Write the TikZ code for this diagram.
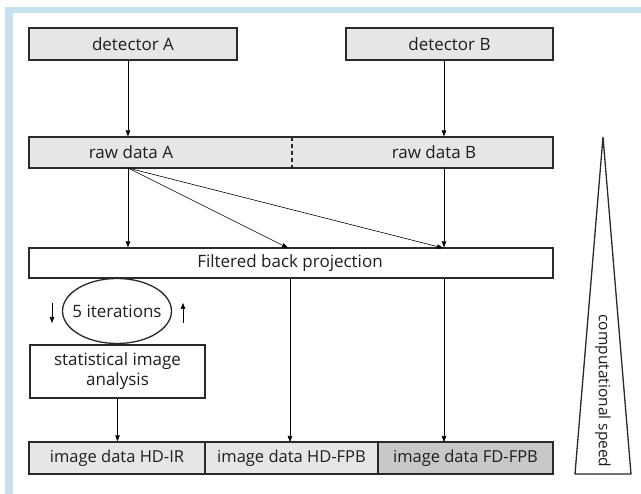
\documentclass[tikz,border=0pt]{standalone}
\usepackage{fontspec}
\setmainfont{Open Sans}
\usetikzlibrary{arrows.meta,shapes.geometric}
\definecolor{frameblue}{HTML}{C6E1EF}
\definecolor{lgray}{HTML}{E6E6E6}
\definecolor{dgray}{HTML}{C8C8C8}
\definecolor{edge}{HTML}{2A2A2A}
\definecolor{txt}{HTML}{1E1E1E}
\begin{document}
\begin{tikzpicture}[x=1pt,y=-1pt,
  box/.style={draw=edge,line width=1.3pt,inner sep=0pt},
  conn/.style={draw=black,line width=0.6pt,-{Triangle[length=6pt,width=4.5pt]}},
  lbl/.style={font=\fontsize{17}{19}\selectfont,text=txt,inner sep=0pt}]
\useasboundingbox (0,0) rectangle (641,494);
\fill[white] (0,0) rectangle (641,494);
\fill[frameblue] (5,7) rectangle (641,13);
\fill[frameblue] (5,7) rectangle (13,494);
% detectors
\node[box,fill=lgray,minimum width=208pt,minimum height=32pt] (detA) at (133,44) {};
\node[lbl] at (133,44) {detector A};
\node[box,fill=lgray,minimum width=207pt,minimum height=32pt] (detB) at (449.5,44) {};
\node[lbl] at (449.5,44) {detector B};
% raw data
\node[box,fill=lgray,minimum width=524pt,minimum height=31pt] (raw) at (291,152.5) {};
\draw[edge,line width=1.3pt,dash pattern=on 4pt off 3pt] (292,137) -- (292,168);
\node[lbl] (rawA) at (131,152.5) {raw data A};
\node[lbl] (rawB) at (434,152.5) {raw data B};
\coordinate (ra) at (128,168);
\coordinate (rb) at (444,168);
% FBP
\node[box,fill=white,minimum width=524pt,minimum height=30pt] (fbp) at (291,263) {};
\node[lbl] at (290,263) {Filtered back projection};
% iterations
\node[draw=edge,line width=1.3pt,ellipse,minimum width=109pt,minimum height=65pt,inner sep=0pt] (iter) at (117,311) {};
\node[lbl] at (117,311) {5 iterations};
\coordinate (d1) at (52,303); \coordinate (d2) at (52,323);
\coordinate (u1) at (183,323); \coordinate (u2) at (183,303);
\draw[conn] (d1) -- (d2);
\draw[conn] (u1) -- (u2);
% statistical
\node[box,fill=white,minimum width=175pt,minimum height=53pt] (stat) at (117.5,371.5) {};
\node[lbl,align=center,font=\fontsize{17}{20}\selectfont] at (117.5,371.5) {statistical image\\analysis};
% bottom boxes
\node[box,fill=lgray,minimum width=176pt,minimum height=32pt] (hdir) at (117,458) {};
\node[lbl,font=\fontsize{16.5}{19}\selectfont] at (117,458) {image data HD-IR};
\node[box,fill=lgray,minimum width=173pt,minimum height=32pt] (hdfpb) at (291.5,458) {};
\node[lbl,font=\fontsize{16.5}{19}\selectfont] at (291.5,458) {image data HD-FPB};
\node[box,fill=dgray,minimum width=175pt,minimum height=32pt] (fdfpb) at (465.5,458) {};
\node[lbl,font=\fontsize{16.5}{19}\selectfont] at (465.5,458) {image data FD-FPB};
% connectors
\draw[conn] (detA.south -| ra) -- (ra |- raw.north);
\draw[conn] (detB.south -| rb) -- (rb |- raw.north);
\draw[conn] (ra) -- (ra |- fbp.north);
\draw[conn] (ra) -- (288,248);
\draw[conn] (ra) -- (443,248);
\draw[conn] (rb) -- (rb |- fbp.north);
\draw[conn] (290,278) -- (290,442);
\draw[conn] (444,278) -- (444,442);
\draw[conn] (stat.south) -- (stat.south |- hdir.north);
% triangle
\coordinate (t1) at (603,137);
\coordinate (t2) at (631,474);
\coordinate (t3) at (575,474);
\draw[edge,line width=1.3pt,line join=miter] (t1) -- (t2) -- (t3) -- cycle;
\node[lbl,rotate=-90,font=\fontsize{15.5}{18}\selectfont] (speed) at (603,391) {computational speed};
\end{tikzpicture}
\end{document}
